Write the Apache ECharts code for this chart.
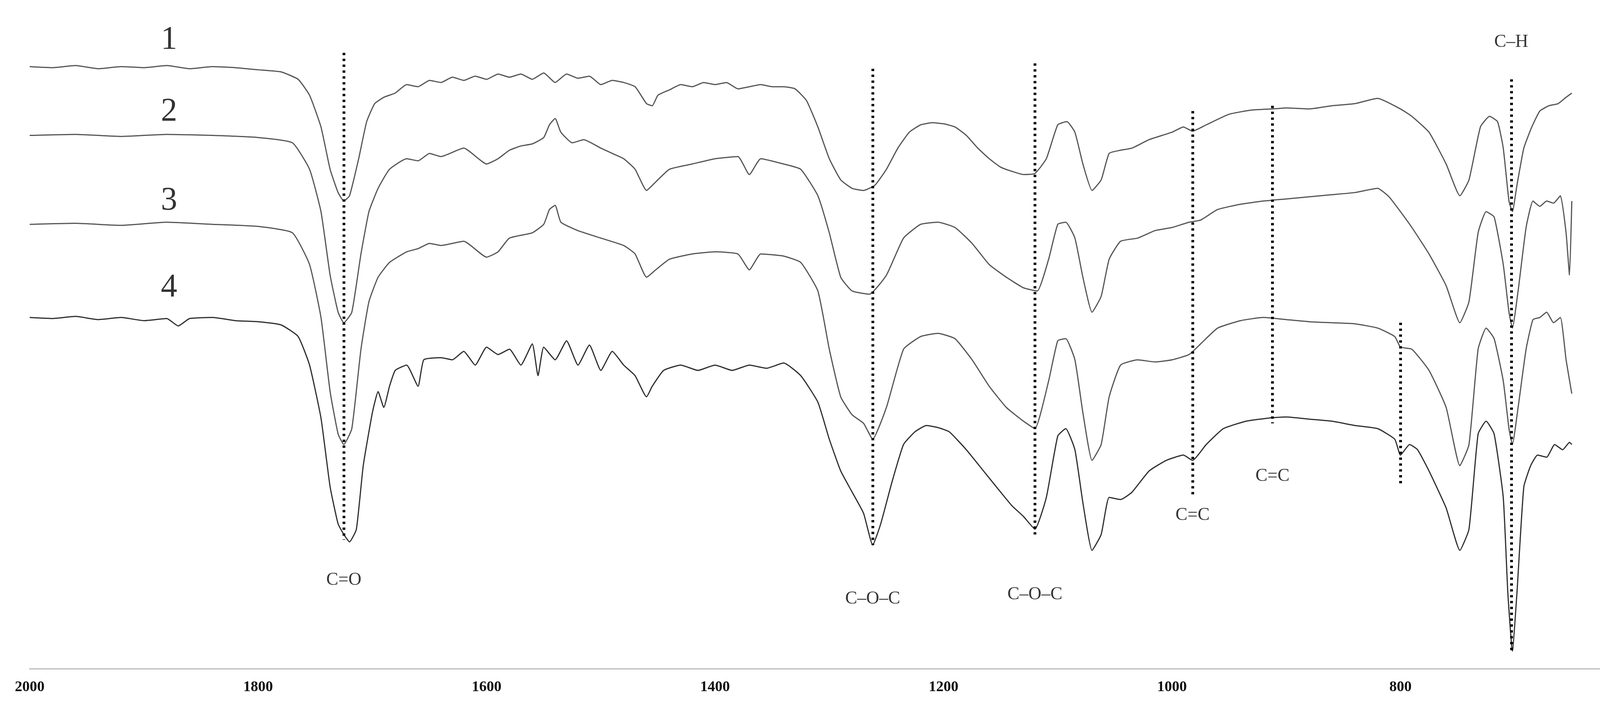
<!DOCTYPE html>
<html><head><meta charset="utf-8">
<script src="https://cdn.jsdelivr.net/npm/echarts@6/dist/echarts.min.js"></script>
<style>html,body{margin:0;background:#fff}#c{width:4246px;height:1807px}</style>
</head><body><div id="c"></div>
<script>
// spectra: [wavenumber, offset transmittance (arb., downward)]
const spec1 = [[2000,63],[1980,64],[1960,62],[1940,65],[1920,63],[1900,64],[1880,62],[1860,65],[1840,63],[1820,64],[1800,66],[1780,68],[1765,75],[1755,90],[1745,120],[1737,160],[1730,182],[1725,190],[1720,185],[1712,150],[1705,115],[1698,98],[1690,92],[1680,88],[1670,80],[1660,82],[1650,76],[1640,78],[1630,73],[1620,76],[1610,72],[1600,75],[1590,70],[1580,73],[1570,70],[1560,75],[1550,69],[1540,78],[1530,70],[1520,74],[1510,72],[1500,80],[1490,76],[1480,78],[1470,82],[1460,98],[1455,100],[1450,90],[1440,85],[1430,80],[1420,82],[1410,78],[1400,80],[1390,78],[1380,84],[1370,82],[1360,80],[1350,82],[1340,82],[1330,84],[1320,95],[1310,120],[1300,150],[1290,170],[1280,178],[1270,180],[1260,175],[1250,160],[1240,140],[1230,125],[1220,118],[1210,116],[1200,117],[1190,120],[1180,128],[1170,140],[1160,150],[1150,158],[1140,162],[1130,165],[1120,164],[1110,150],[1100,118],[1092,115],[1085,125],[1078,155],[1070,180],[1062,170],[1055,145],[1045,142],[1035,140],[1020,132],[1000,125],[990,120],[982,124],[970,118],[950,108],[930,104],[912,103],[900,102],[880,103],[860,100],[840,98],[820,93],[800,103],[790,110],[775,125],[760,155],[748,185],[740,170],[730,120],[722,110],[715,115],[710,140],[705,190],[702,200],[698,175],[692,140],[685,120],[678,105],[670,100],[662,98],[655,92],[650,88]];
const spec2 = [[2000,128],[1960,127],[1920,129],[1880,127],[1840,128],[1800,130],[1770,135],[1755,160],[1745,200],[1737,260],[1730,295],[1725,305],[1718,295],[1710,240],[1703,200],[1695,178],[1685,160],[1670,150],[1660,152],[1650,145],[1640,148],[1620,140],[1600,155],[1590,150],[1580,142],[1570,138],[1560,136],[1550,130],[1545,118],[1540,112],[1535,125],[1525,135],[1515,132],[1500,140],[1490,145],[1480,150],[1470,160],[1460,180],[1452,172],[1440,160],[1420,155],[1400,150],[1380,148],[1370,165],[1360,150],[1340,155],[1325,160],[1310,185],[1300,220],[1290,262],[1280,275],[1265,278],[1250,260],[1235,225],[1220,212],[1205,210],[1190,215],[1175,230],[1160,250],[1145,262],[1130,272],[1118,275],[1108,245],[1100,212],[1093,210],[1085,225],[1078,262],[1070,295],[1062,280],[1055,245],[1045,228],[1030,225],[1015,218],[1000,215],[985,210],[975,208],[960,198],[940,193],[920,190],[900,188],[880,186],[860,184],[840,182],[820,178],[810,186],[800,200],[790,215],[775,240],[760,270],[748,305],[740,285],[732,220],[725,200],[718,205],[710,250],[705,295],[702,310],[697,275],[690,215],[684,190],[678,195],[672,190],[666,192],[660,185],[655,220],[652,260],[650,190]];
const spec3 = [[2000,212],[1960,211],[1920,213],[1880,210],[1840,212],[1800,214],[1770,220],[1755,250],[1745,300],[1737,370],[1730,410],[1725,420],[1718,405],[1710,330],[1703,285],[1695,262],[1685,248],[1670,238],[1660,235],[1650,230],[1640,232],[1620,228],[1600,243],[1590,238],[1580,225],[1560,220],[1550,212],[1545,198],[1540,194],[1535,210],[1520,218],[1500,225],[1480,232],[1470,240],[1460,262],[1452,255],[1440,245],[1420,240],[1400,238],[1380,240],[1370,255],[1360,240],[1340,242],[1325,248],[1310,275],[1300,330],[1290,375],[1280,392],[1270,400],[1262,415],[1250,385],[1235,330],[1220,318],[1205,315],[1190,320],[1175,340],[1160,365],[1145,385],[1130,398],[1120,405],[1108,360],[1100,322],[1093,320],[1085,340],[1078,390],[1070,435],[1062,420],[1055,375],[1045,345],[1030,340],[1015,342],[1000,340],[985,335],[975,325],[960,310],[940,303],[920,300],[900,302],[880,304],[860,305],[840,306],[820,310],[805,318],[800,328],[790,330],[775,350],[760,385],[748,440],[740,420],[732,330],[725,310],[718,320],[710,360],[705,405],[702,420],[697,385],[690,330],[684,302],[678,300],[672,295],[666,305],[660,300],[655,340],[650,372]];
const spec4 = [[2000,300],[1980,301],[1960,299],[1940,302],[1920,300],[1900,303],[1880,301],[1870,308],[1860,301],[1840,300],[1820,303],[1800,304],[1780,307],[1765,318],[1755,345],[1745,395],[1737,460],[1730,495],[1725,505],[1720,512],[1714,500],[1708,440],[1700,390],[1695,370],[1690,385],[1685,365],[1680,350],[1670,345],[1660,365],[1655,340],[1640,338],[1630,340],[1620,332],[1610,345],[1600,328],[1590,335],[1580,330],[1570,345],[1560,325],[1555,355],[1550,328],[1540,340],[1530,322],[1520,345],[1510,326],[1500,350],[1490,332],[1480,345],[1470,355],[1460,375],[1455,365],[1445,350],[1430,345],[1415,350],[1400,345],[1385,350],[1370,345],[1355,348],[1340,343],[1325,355],[1310,380],[1300,415],[1290,445],[1280,465],[1270,485],[1262,515],[1255,495],[1245,455],[1235,420],[1225,408],[1215,402],[1205,404],[1195,408],[1180,425],[1165,445],[1150,465],[1140,478],[1130,488],[1120,500],[1110,470],[1100,412],[1093,405],[1085,425],[1078,475],[1070,520],[1062,505],[1055,470],[1045,472],[1035,465],[1020,445],[1005,435],[990,430],[982,435],[970,420],[955,405],[935,398],[915,395],[900,394],[880,396],[860,398],[840,402],[820,405],[805,415],[800,430],[792,420],[785,425],[775,445],[760,480],[748,520],[740,500],[732,410],[725,398],[718,410],[710,470],[706,560],[702,615],[698,560],[692,460],[686,440],[680,430],[672,432],[665,420],[658,425],[652,418],[650,420]];

// dotted marker lines: [wavenumber, from, to]
const markers = [[1725,50,510],[1262,65,515],[1120,60,505],[982,105,470],[912,100,400],[800,305,460],[703,75,615]];
// band labels: [wavenumber, y, text]
const bandLabels = [[1725,548,'C=O'],[1262,566,'C–O–C'],[1120,562,'C–O–C'],[982,487,'C=C'],[912,450,'C=C'],[703,40,'C–H']];
// curve numbers
const curveNums = [[1878,38,'1'],[1878,106,'2'],[1878,190,'3'],[1878,272,'4']];

const chart = echarts.init(document.getElementById('c'));
const lineSeries = [spec1, spec2, spec3, spec4].map((d, i) => ({
  type: 'line', data: d, showSymbol: false, smooth: 0.15,
  lineStyle: { color: i === 3 ? '#2e2e2e' : '#555', width: 3 }
}));
chart.setOption({
  animation: false,
  grid: { left: 76, right: 76, top: 54, bottom: 95, outerBoundsMode: 'none' },
  xAxis: {
    type: 'value', min: 600, max: 2000, interval: 200, inverse: true,
    axisLine: { lineStyle: { color: '#c8c8c8', width: 4 } },
    axisTick: { show: false }, splitLine: { show: false },
    axisLabel: { color: '#111', fontSize: 38, fontWeight: 'bold', fontFamily: 'Liberation Serif', margin: 28, formatter: v => String(v), showMinLabel: true, showMaxLabel: true }
  },
  yAxis: {
    type: 'value', min: 20, max: 632, inverse: true, position: 'left',
    axisLine: { show: false }, axisLabel: { show: false }, axisTick: { show: false }, splitLine: { show: false }
  },
  series: [
    ...lineSeries,
    {
      type: 'line', data: [], silent: true,
      markLine: {
        symbol: 'none', silent: true, label: { show: false },
        lineStyle: { color: '#000', type: [6, 9], width: 7 },
        data: markers.map(m => [{ coord: [m[0], m[1]] }, { coord: [m[0], m[2]] }])
      }
    },
    {
      type: 'line', data: [], silent: true,
      markLine: {
        symbol: 'none', silent: true, label: { show: false },
        lineStyle: { color: '#d8d8d8', type: 'solid', width: 3 },
        data: [[{ coord: [600, 20] }, { coord: [600, 632] }]]
      }
    },
    {
      type: 'scatter', symbolSize: 0, silent: true,
      data: bandLabels.map(b => ({ value: [b[0], b[1]], name: b[2] })),
      label: { show: true, position: 'inside', formatter: p => p.name, color: '#000', fontSize: 46, fontFamily: 'Liberation Serif' }
    },
    {
      type: 'scatter', symbolSize: 0, silent: true,
      data: curveNums.map(b => ({ value: [b[0], b[1]], name: b[2] })),
      label: { show: true, position: 'inside', formatter: p => p.name, color: '#000', fontSize: 84, fontFamily: 'Liberation Serif' }
    }
  ]
});
</script></body></html>
